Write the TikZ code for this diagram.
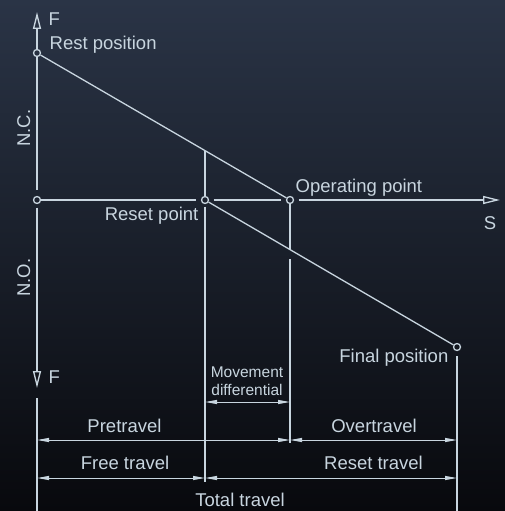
\documentclass[tikz,border=0pt]{standalone}
\usepackage{fontspec}
\setmainfont{Liberation Sans}
\usetikzlibrary{arrows.meta}
\definecolor{ink}{HTML}{C8D5DF}
\definecolor{bgtop}{HTML}{2A3446}
\definecolor{bgmid}{HTML}{1B2130}
\definecolor{bgbot}{HTML}{08090D}
\begin{document}
\begin{tikzpicture}[x=1pt,y=-1pt,line width=1.3pt,ink,
 font=\fontsize{18.5}{21}\selectfont,
 pnt/.style={circle,draw,inner sep=0pt,minimum size=7pt},
 axis/.style={-{Triangle[open,length=17pt,width=8pt]}},
 dim/.style={line width=1pt,{Triangle[length=12pt,width=4pt]}-{Triangle[length=12pt,width=4pt]}},
 lbl/.style={inner sep=0pt,anchor=base},
 small/.style={font=\fontsize{15.5}{18}\selectfont}]
\useasboundingbox (0,0) rectangle (505,511);
\shade[top color=bgtop,middle color=bgmid,bottom color=bgbot] (0,0) rectangle (505,511);
% switching points
\node[pnt] (rest) at (37,53) {};
\node[pnt] (orig) at (37,200) {};
\node[pnt] (reset) at (205,200) {};
\node[pnt] (oper) at (290,200) {};
\node[pnt] (final) at (457,347) {};
\coordinate (ftop) at (37,12); \coordinate (fbot) at (37,388);
\coordinate (send) at (500,200);
% axes
\draw[axis] (rest) -- (ftop);
\draw[shorten <=6pt] (orig) -- (rest);
\draw[axis,shorten <=3.5pt] (orig) -- (fbot);
\draw (37,398) -- (37,511);
\draw[shorten >=4.5pt] (orig) -- (reset);
\draw[shorten <=4.5pt,shorten >=4.5pt] (reset) -- (oper);
\draw[axis,shorten <=4.5pt] (oper) -- (send);
% characteristic
\draw (rest) -- (oper); \draw (reset) -- (final);
\draw (205,150.6) -- (reset); \draw[shorten <=2.5pt] (reset) -- (205,482);
\draw (oper) -- (290,249.6); \draw (290,259) -- (290,443);
\draw[shorten <=5pt] (final) -- (457,511);
% dimensions
\draw[dim] (205,402) -- (290,402);
\draw[dim] (37,440) -- (290,440); \draw[dim] (290,440) -- (457,440);
\draw[dim] (37,478) -- (205,478); \draw[dim] (205,478) -- (457,478);
% labels
\node[lbl,anchor=base west] (ftxt) at (48,26) {F};
\node[lbl,anchor=base west] (resttxt) at (49,50) {Rest position};
\node[lbl,rotate=90] (nc) at (30,128) {N.C.};
\node[lbl,rotate=90] (no) at (30,277.5) {N.O.};
\node[lbl,anchor=base east] (resettxt) at (199,220) {Reset point};
\node[lbl,anchor=base west] (opertxt) at (295,192) {Operating point};
\node[lbl] (stxt) at (490,229) {S};
\node[lbl,anchor=base east] (finaltxt) at (449,362) {Final position};
\node[lbl,anchor=base west] (fbtxt) at (48,383) {F};
\node[lbl,small,align=center,anchor=center] (mdtxt) at (247,381) {Movement\\differential};
\node[lbl] (pretxt) at (124.5,432) {Pretravel};
\node[lbl] (overtxt) at (374,432) {Overtravel};
\node[lbl] (freetxt) at (125,469) {Free travel};
\node[lbl] (rttxt) at (373.5,469) {Reset travel};
\node[lbl] (totaltxt) at (240,506) {Total travel};
\end{tikzpicture}
\end{document}
